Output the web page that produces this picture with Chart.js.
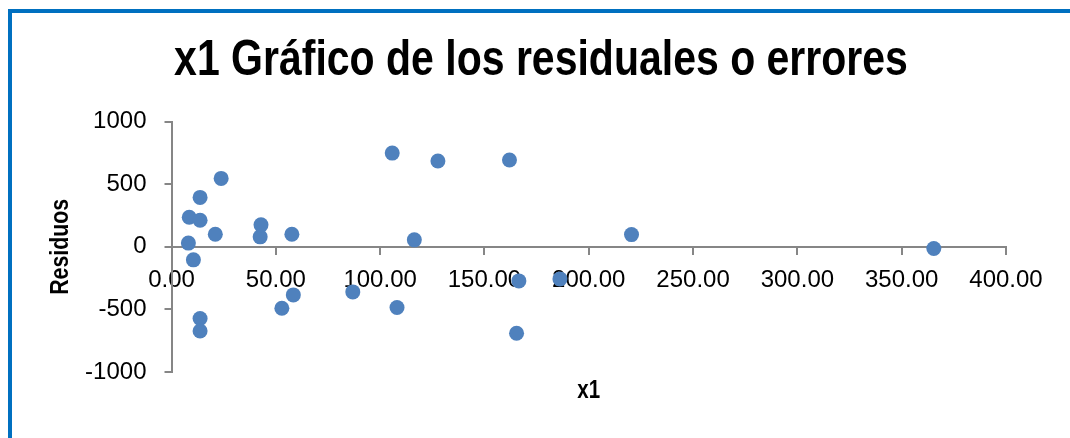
<!DOCTYPE html>
<html><head><meta charset="utf-8">
<script src="https://cdn.jsdelivr.net/npm/chart.js@4.4.1/dist/chart.umd.min.js"></script>
<style>
html,body{margin:0;padding:0;background:#fff;width:1070px;height:438px;overflow:hidden;}
#frame{position:absolute;left:8px;top:9px;width:1062px;height:429px;border-top:4px solid #0070C0;border-left:4px solid #0070C0;box-sizing:border-box;}
#c{position:absolute;left:12px;top:0;}
</style></head><body>
<div id="frame"></div>
<canvas id="c" width="1058" height="438"></canvas>
<script>
const chartTitle = 'x1 Gráfico de los residuales o errores';
const xAxisTitle = 'x1';
const yAxisTitle = 'Residuos';
const x1Values  = [8.1, 8.5, 10.5, 13.7, 13.7, 13.7, 13.7, 21.0, 23.8, 42.5, 42.9, 52.9, 57.7, 58.4, 86.9, 105.8, 108.1, 116.4, 127.7, 162.0, 166.5, 165.4, 186.2, 220.5, 365.4];
const residuals = [30, 237, -104, 395, 213, -573, -672, 101, 547, 80, 176, -491, 101, -384, -360, 749, -485, 56, 686, 694, -272, -690, -256, 98, -13];
const xTickValues = [0, 50, 100, 150, 200, 250, 300, 350, 400];
const yTickValues = [-1000, -500, 0, 500, 1000];

const axisGray = '#868686';
const boldFamily = "'Liberation Sans Narrow', 'Arial Narrow', 'Liberation Sans', Arial, sans-serif";
const tickFont = { family: "'Liberation Sans', Arial, sans-serif", size: 24 };
const NARROW = 0.82; // horizontal squeeze to mimic a narrow bold face

const points = x1Values.map((x, i) => ({ x: x, y: residuals[i] }));

// Draws the title blocks and the y-axis title in a condensed form
const condensePlugin = {
  id: 'condense',
  afterLayout(chart) {
    chart.boxes.forEach(box => {
      if (box._condensed) return;
      if (box.axis === 'y') {
        const orig = box.drawTitle;
        box.drawTitle = function () {
          const ctx = this.ctx, cy = (this.top + this.bottom) / 2;
          ctx.save(); ctx.translate(0, cy); ctx.scale(1, NARROW); ctx.translate(0, -cy);
          orig.apply(this, arguments); ctx.restore();
        };
        box._condensed = true;
      } else if (box.axis === undefined && box.options && box.options.text !== undefined) {
        const orig = box.draw;
        box.draw = function () {
          const ctx = this.ctx, cx = (this.left + this.right) / 2;
          ctx.save(); ctx.translate(cx, 0); ctx.scale(NARROW, 1); ctx.translate(-cx, 0);
          orig.apply(this, arguments); ctx.restore();
        };
        box._condensed = true;
      }
    });
  }
};

new Chart(document.getElementById('c'), {
  type: 'scatter',
  data: { datasets: [{ label: yAxisTitle, data: points, backgroundColor: '#4F81BD', borderColor: '#4F81BD', borderWidth: 0, pointRadius: 7.5, pointHoverRadius: 7.5 }] },
  plugins: [condensePlugin],
  options: {
    responsive: false, animation: false, devicePixelRatio: 1,
    layout: { padding: 0 },
    plugins: {
      legend: { display: false }, tooltip: { enabled: false },
      title: { display: true, text: chartTitle, color: '#000', font: { family: boldFamily, size: 50, weight: 'bold' }, padding: { top: 31, bottom: 30.7 } },
      subtitle: { display: true, text: xAxisTitle, position: 'bottom', fullSize: false, color: '#000', font: { family: boldFamily, size: 25, weight: 'bold' }, padding: { top: 4.5, bottom: 31.5 } }
    },
    scales: {
      x: {
        type: 'linear', position: { y: 0 }, min: 0, max: 400,
        afterBuildTicks: s => { s.ticks = xTickValues.map(v => ({ value: v })); },
        afterFit: s => { s.height = 0; s.paddingRight = 64; },
        ticks: { color: '#000', font: tickFont, padding: 12, maxRotation: 0, autoSkip: false, callback: v => Number(v).toFixed(2) },
        grid: { drawOnChartArea: false, color: axisGray, lineWidth: 2, tickLength: 7 },
        border: { color: axisGray, width: 2 }
      },
      y: {
        type: 'linear', position: 'left', min: -1000, max: 1000,
        afterBuildTicks: s => { s.ticks = yTickValues.map(v => ({ value: v })); },
        afterFit: s => { s.width = 159.5; },
        ticks: { color: '#000', font: tickFont, padding: 18, autoSkip: false, callback: v => String(v) },
        grid: { drawOnChartArea: false, color: axisGray, lineWidth: 2, tickLength: 7 },
        border: { color: axisGray, width: 2 },
        title: { display: true, text: yAxisTitle, color: '#000', font: { family: boldFamily, size: 26, weight: 'bold' }, padding: { top: 33.4, bottom: 0 } }
      }
    }
  }
});
</script>
</body></html>
